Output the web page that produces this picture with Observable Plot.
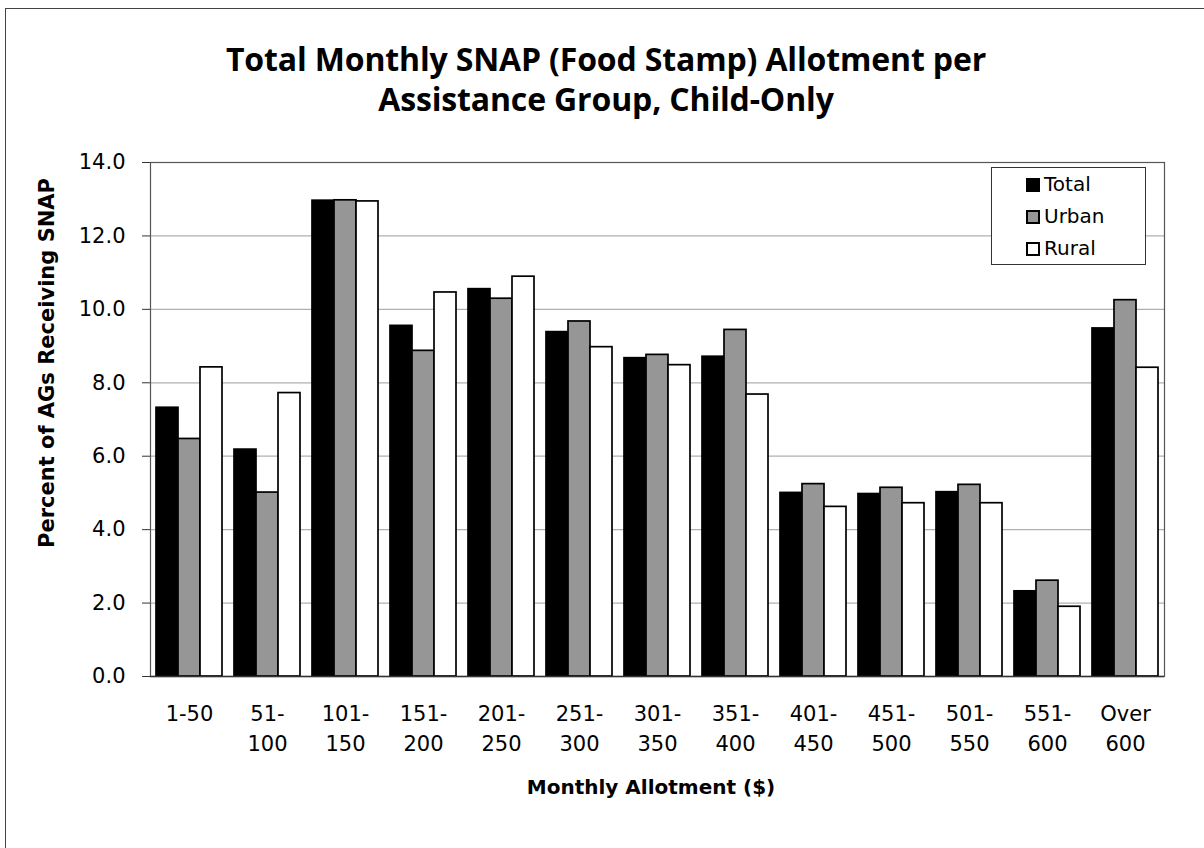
<!DOCTYPE html>
<html>
<head>
<meta charset="utf-8">
<script src="https://cdn.jsdelivr.net/npm/d3@7"></script>
<script src="https://cdn.jsdelivr.net/npm/@observablehq/plot@0.6"></script>
<style>
  html, body { margin: 0; padding: 0; background: #fff; overflow: hidden; }
  #wrap { position: relative; width: 1204px; height: 848px; font-family: "DejaVu Sans", sans-serif; color: #000; }
  #outer { position: absolute; left: 5px; top: 8px; width: 1300px; height: 900px; border-left: 1.5px solid #444; border-top: 1.5px solid #444; }
  #chart { position: absolute; left: 0; top: 0; }
  .tline { position: absolute; left: 0; width: 1212px; height: 38px; text-align: center; font-family: "Open Sans", sans-serif; font-weight: bold; font-size: 32px; line-height: 38px; letter-spacing: -0.15px; white-space: nowrap; }
  #xtitle { position: absolute; left: 0; top: 774px; width: 1302px; text-align: center; font-weight: bold; font-size: 20px; line-height: 26px; }
  #ytitle { position: absolute; left: -203px; top: 350px; width: 500px; height: 26px; text-align: center; font-weight: bold; font-size: 21px; line-height: 26px; transform: rotate(-90deg); }
  #legend { position: absolute; left: 991px; top: 167px; width: 155px; height: 98px; box-sizing: border-box; border: 1px solid #333; background: #fff; }
  .item { position: absolute; left: 34px; height: 26px; line-height: 26px; font-size: 20px; white-space: nowrap; }
  .sw { display: inline-block; width: 14px; height: 14px; border: 2px solid #000; box-sizing: border-box; vertical-align: -1px; margin-right: 4px; }
</style>
</head>
<body>
<div id="wrap">
  <div id="outer"></div>
  <div id="chart"></div>
  <div class="tline" style="top:40px">Total Monthly SNAP (Food Stamp) Allotment per</div>
  <div class="tline" style="top:80px">Assistance Group, Child-Only</div>
  <div id="xtitle">Monthly Allotment ($)</div>
  <div id="ytitle">Percent of AGs Receiving SNAP</div>
  <div id="legend"></div>
</div>
<script>
const categories = ["1-50","51-100","101-150","151-200","201-250","251-300","301-350","351-400","401-450","451-500","501-550","551-600","Over 600"];
const tickLabels = ["1-50","51-\n100","101-\n150","151-\n200","201-\n250","251-\n300","301-\n350","351-\n400","401-\n450","451-\n500","501-\n550","551-\n600","Over\n600"];
const seriesNames = ["Total","Urban","Rural"];
const seriesColors = ["#000000","#969696","#ffffff"];
const total = [7.32,6.18,12.96,9.55,10.55,9.38,8.67,8.71,5.00,4.97,5.02,2.32,9.48];
const urban = [6.47,5.01,12.97,8.87,10.29,9.67,8.76,9.44,5.24,5.14,5.22,2.61,10.25];
const rural = [8.42,7.72,12.94,10.46,10.89,8.97,8.48,7.68,4.62,4.72,4.72,1.90,8.41];
const yTicks = [0,2,4,6,8,10,12,14];

const seriesValues = [total, urban, rural];
const data = [];
categories.forEach((c, i) => {
  seriesNames.forEach((s, j) => data.push({cat: c, series: s, value: seriesValues[j][i]}));
});
const labelOf = new Map(categories.map((c, i) => [c, tickLabels[i]]));

const chart = Plot.plot({
  width: 1204,
  height: 848,
  marginLeft: 146,
  marginRight: 36,
  marginTop: 162,
  marginBottom: 172,
  style: {fontFamily: "'DejaVu Sans', sans-serif", color: "#000", background: "transparent"},
  fx: {domain: categories, padding: 0, axis: null},
  x: {domain: seriesNames, paddingInner: 0, paddingOuter: 0.22, axis: null},
  y: {domain: [0, 14]},
  color: {domain: seriesNames, range: seriesColors},
  marks: [
    Plot.gridY({ticks: yTicks.filter(d => d > 0 && d < 14), stroke: "#b0b0b0", strokeOpacity: 1, strokeWidth: 1.2}),
    Plot.frame({facet: "super", stroke: "#555", strokeWidth: 1.2}),
    Plot.barY(data, {fx: "cat", x: "series", y: "value", fill: "series", stroke: "#000", strokeWidth: 1.7}),
    Plot.ruleY([0], {stroke: "#333", strokeWidth: 1.5}),
    Plot.axisY({ticks: yTicks, tickFormat: d => d.toFixed(1), tickSize: 8, tickPadding: 17, fontSize: 21, label: null, stroke: "#333"}),
    Plot.axisFx({anchor: "bottom", tickSize: 0, tickPadding: 23, fontSize: 21, lineHeight: 1.43, label: null, tickFormat: d => labelOf.get(d)})
  ]
});
document.getElementById("chart").appendChild(chart);

const legend = document.getElementById("legend");
seriesNames.forEach((s, j) => {
  const it = document.createElement("div");
  it.className = "item";
  it.style.top = (3 + j * 32) + "px";
  const sw = document.createElement("span");
  sw.className = "sw";
  sw.style.background = seriesColors[j];
  it.appendChild(sw);
  it.appendChild(document.createTextNode(s));
  legend.appendChild(it);
});
</script>
</body>
</html>
